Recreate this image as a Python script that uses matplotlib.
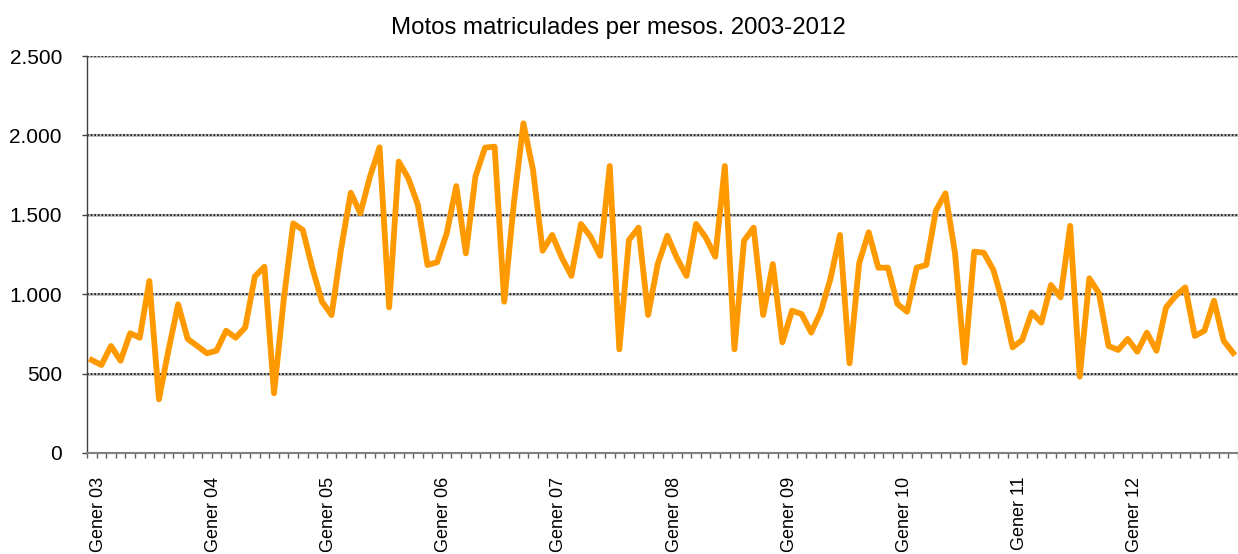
import matplotlib
matplotlib.use("Agg")
import matplotlib.pyplot as plt
from matplotlib.ticker import FuncFormatter, MultipleLocator

plt.rcParams["font.family"] = ["Liberation Sans", "DejaVu Sans"]

TITLE = "Motos matriculades per mesos. 2003-2012"
YEARS = ["03", "04", "05", "06", "07", "08", "09", "10", "11", "12"]

# monthly registrations, Jan 2003 .. Dec 2012
motos = [
    585, 554, 674, 581, 754, 726, 1083, 338, 649, 936, 718, 674,
    628, 644, 770, 726, 791, 1112, 1173, 376, 960, 1446, 1404, 1163,
    953, 869, 1289, 1639, 1509, 1740, 1925, 917, 1835, 1730, 1562, 1184,
    1201, 1383, 1681, 1257, 1742, 1923, 1929, 953, 1572, 2076, 1782, 1274,
    1373, 1230, 1115, 1442, 1362, 1241, 1807, 653, 1341, 1419, 869, 1190,
    1368, 1228, 1115, 1442, 1358, 1236, 1807, 653, 1337, 1419, 869, 1190,
    697, 896, 875, 758, 890, 1095, 1373, 565, 1194, 1390, 1167, 1167,
    938, 890, 1167, 1184, 1526, 1635, 1257, 569, 1268, 1261, 1152, 942,
    665, 712, 886, 821, 1058, 980, 1430, 481, 1100, 1006, 674, 649,
    718, 638, 758, 644, 917, 989, 1043, 737, 770, 959, 707, 630,
]

ORANGE = "#FF9900"
W, H = 1238, 554

fig = plt.figure(figsize=(W / 100, H / 100), dpi=100, facecolor="white")
ax = fig.add_axes([87 / W, 1 - 453 / H, (W - 87) / W, (453 - 56) / H])

x = list(range(len(motos)))
ax.plot(x, motos, color=ORANGE, lw=4.2, solid_joinstyle="round", zorder=3)

ax.set_xlim(-0.5, -0.5 + (W - 87) / 9.66)
ax.set_ylim(0, 2500)

# gridlines: light band with dark dots on top
ax.yaxis.set_major_locator(MultipleLocator(500))
for v in ax.get_yticks()[1:]:
    ax.axhline(v, color="#c0c0c0", lw=2.2, zorder=1)
    ax.axhline(v, color="#202020", lw=1.3, ls=(0, (1, 1)), zorder=2)

ax.yaxis.set_major_formatter(FuncFormatter(lambda v, p: f"{int(v):,}".replace(",", ".")))
ax.tick_params(axis="y", length=3.6, width=1, color="#404040", labelsize=15, pad=14.4, direction="out")

# month ticks on category boundaries (minor), labels on each January (major)
ax.xaxis.remove_overlapping_locs = False
ax.set_xticks([i - 0.5 for i in range(len(motos) + 1)], minor=True)
ax.set_xticks([i * 12 + 0.7 for i in range(len(YEARS))])
ax.set_xticklabels([f"Gener {y}" for y in YEARS], rotation=90)
ax.tick_params(axis="x", which="minor", length=3.6, width=1, color="#606060", direction="out")
ax.tick_params(axis="x", which="major", length=0, labelsize=13, pad=17)

for s in ["top", "right"]:
    ax.spines[s].set_visible(False)
ax.spines["left"].set_color("#404040")
ax.spines["bottom"].set_color("#808080")
ax.spines["left"].set_linewidth(1)
ax.spines["bottom"].set_linewidth(1.5)

fig.text(0.4996, 1 - 28 / H, TITLE, ha="center", va="center", fontsize=17.3)

fig.savefig("out.png", dpi=100, facecolor="white")
